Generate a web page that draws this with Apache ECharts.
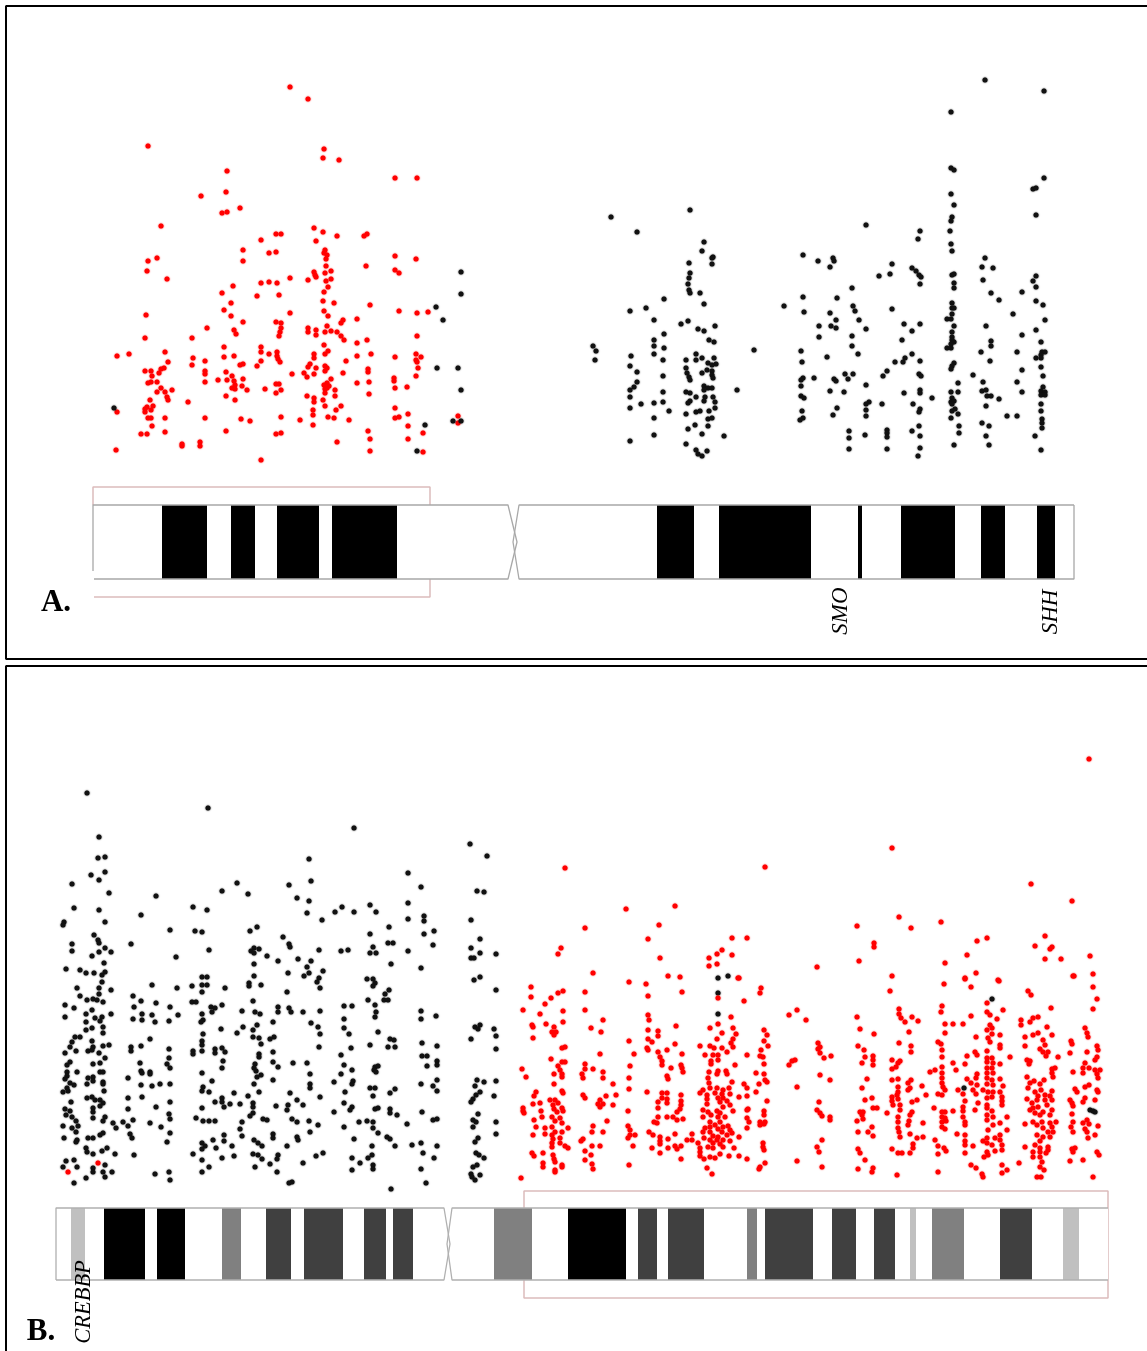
<!DOCTYPE html>
<html><head><meta charset="utf-8">
<style>html,body{margin:0;padding:0;background:#fff}#c{width:1147px;height:1351px}</style>
<script src="https://cdn.jsdelivr.net/npm/echarts@6/dist/echarts.min.js"></script>
</head><body><div id="c"></div>
<script>
const redA=[[290,87],[308,99],[148,146],[324,149],[323,158],[339,160],[227,171],[395,178],[417,178],[226,192],[201,196],[240,208],[227,212],[222,213],[161,226],[314,228],[323,232],[276,234],[281,234],[337,236],[364,236],[367,234],[261,240],[316,241],[243,250],[325,250],[324,253],[327,255],[269,253],[276,252],[395,256],[326,259],[416,259],[157,258],[148,261],[243,261],[326,266],[366,266],
[147,271],[167,279],[395,270],[399,273],[331,271],[325,273],[314,272],[316,277],[315,275],[331,279],[326,281],[308,280],[290,278],[277,283],[269,282],[261,283],[233,286],[222,293],[328,287],[324,292],[257,296],[279,295],[323,301],[231,303],[334,303],[370,305],[224,310],[146,315],[231,316],[290,313],[324,311],[328,316],[399,311],[417,313],[428,312],[357,319],[243,322],[276,322],[281,323],[343,320],[341,323],[327,326],[207,328],[234,330],[236,334],[281,328],[280,332],[279,336],[308,328],[308,332],[316,330],[316,335],[325,332],[331,331],[337,332],[341,336],[344,340],[417,336],[145,338],[192,338],[367,340],[357,343],[324,345],[224,347],[261,347],[261,352],[165,352],[328,351],[325,354],[129,354],[117,356],[269,354],[277,352],[277,356],[314,354],[314,358],[371,354],[357,356],[395,357],[416,354],[421,357],[416,360],[417,362],[193,358],[224,357],[234,356],[278,359],[280,362],[261,361],[257,366],[168,362],[205,361],[192,365],[346,361],[240,365],[243,364],[310,364],[308,367],[316,368],[325,366],[327,368],[325,371],[164,368],[161,369],[159,373],[145,371],[151,371],[152,376],[205,371],[205,374],[226,372],[232,376],[227,380],[218,380],[243,379],[234,381],[368,369],[368,372],[418,368],[416,376],[343,373],[292,374],[304,373],[307,377],[314,374],[331,379],[394,378],[394,381],[148,383],[151,382],[157,382],[205,382],[357,383],[369,382],[276,384],[279,384],[327,383],[324,385],[329,386],[235,385],[242,386],[232,388],[235,389],[247,390],[265,389],[281,390],[325,389],[327,388],[335,390],[395,388],[407,387],[161,388],[172,390],[157,392],[165,392],[276,393],[325,393],[369,394],[226,396],[335,396],[167,397],[168,400],[307,396],[314,398],[314,402],[323,400],[150,400],[188,402],[235,400],[325,406],[341,406],[336,410],[395,408],[153,406],[147,407],[145,409],[151,410],[145,412],[117,412],[313,410],[313,415],[408,414],[458,416],[148,418],[151,418],[165,418],[205,418],[241,419],[250,421],[281,417],[300,420],[328,417],[334,418],[349,420],[395,418],[399,417],[313,425],[152,426],[408,426],[458,423],[226,431],[368,431],[423,433],[276,434],[281,433],[141,434],[147,434],[165,432],[370,439],[408,439],[337,442],[182,444],[182,446],[200,442],[200,446],[116,450],[370,451],[423,452],[261,460]];
const blackA=[[461,272],[461,294],[436,307],[443,320],[437,368],[458,368],[461,390],[425,425],[453,421],[461,421],[417,451],[114,408],
[985,80],[1044,91],[951,112],[951,168],[954,170],[1044,178],[1033,189],[1036,188],[951,194],[954,205],[690,210],[611,217],[1036,215],[952,217],[951,221],[866,225],[637,232],[920,231],[950,231],[918,239],[704,242],[951,244],[702,251],[952,251],[803,255],[713,257],[712,258],[833,258],[834,261],[818,261],[985,258],[689,263],[712,264],[892,264],[830,267],[982,267],[993,268],[912,268],
[916,271],[919,275],[921,277],[879,276],[890,274],[690,273],[689,278],[688,284],[689,290],[690,293],[700,293],[952,275],[954,274],[954,283],[954,288],[920,284],[983,280],[1036,276],[1033,281],[1036,287],[852,288],[1022,292],[991,293],[803,297],[837,298],[664,299],[999,300],[1036,301],[704,304],[952,303],[1043,305],[784,306],[853,306],[646,308],[952,308],[954,308],[892,309],[855,311],[630,311],[804,312],[830,313],[952,314],[1013,314],[1045,320],[859,320],[836,320],[654,320],[688,321],[681,324],[947,319],[951,319],[954,326],[904,324],[920,324],[819,326],[831,326],[836,328],[715,326],[698,329],[704,331],[866,329],[912,331],[986,326],[1036,330],[664,334],[819,337],[852,336],[1022,335],[952,332],[952,337],[952,340],[954,342],[902,340],[654,340],[709,340],[714,342],[991,341],[991,346],[1041,342],[654,346],[664,348],[852,346],[947,348],[951,348],[951,344],[593,346],[596,351],[595,360],[754,350],[801,351],[981,352],[1017,352],[1042,352],[1045,352],[1041,355],[1036,358],[1041,358],[654,354],[631,356],[696,354],[702,358],[714,358],[858,354],[912,354],[827,357],[905,358],[663,360],[686,360],[696,360],[708,363],[716,364],[712,365],[920,361],[802,362],[895,362],[903,362],[990,361],[630,366],[686,368],[954,363],[952,366],[951,369],[1041,367],[637,372],[687,373],[702,373],[707,370],[712,371],[712,375],[713,378],[1022,370],[887,371],[883,376],[845,374],[853,374],[919,374],[921,376],[973,375],[1043,376],[663,376],[689,377],[690,380],[814,378],[803,378],[801,380],[834,379],[836,381],[848,379],[637,382],[958,383],[983,382],[1017,382],[801,386],[866,385],[634,387],[630,390],[704,386],[708,388],[712,388],[704,390],[1043,387],[737,390],[830,391],[844,392],[904,393],[920,390],[920,393],[951,392],[958,392],[982,391],[986,390],[1022,392],[1041,391],[1045,392],[1041,395],[1045,395],[663,392],[686,392],[690,393],[630,397],[696,397],[705,397],[713,397],[801,396],[804,398],[932,398],[987,396],[991,396],[999,399],[952,398],[951,402],[954,401],[952,404],[641,404],[654,403],[663,402],[690,401],[688,403],[704,401],[715,402],[869,402],[866,404],[882,404],[913,404],[1041,404],[986,406],[715,408],[630,408],[837,408],[866,410],[920,409],[919,412],[952,411],[955,409],[958,414],[1041,411],[669,411],[686,414],[696,412],[700,411],[709,411],[802,411],[833,415],[866,416],[1007,416],[1017,416],[654,418],[708,419],[712,418],[803,418],[800,420],[951,418],[1042,419],[1042,423],[982,423],[989,426],[695,425],[708,426],[688,429],[919,426],[959,426],[1042,428],[849,431],[887,430],[912,431],[959,433],[887,433],[702,434],[654,435],[724,436],[865,435],[849,438],[887,437],[920,436],[986,436],[1035,436],[630,441],[686,444],[954,445],[989,445],[849,449],[887,449],[920,448],[1041,450],[696,450],[698,454],[702,456],[707,451],[918,456]];
const blackB=[[87,793],[208,808],[354,828],[99,837],[470,844],[487,856],[98,858],[105,857],[309,859],[105,872],[408,873],[91,875],[99,880],[311,881],[72,884],[237,883],[289,885],[421,887],[222,891],[477,891],[484,892],[109,893],[248,894],[156,896],[297,898],[309,901],[408,903],[370,905],[74,908],[193,907],[342,907],[99,910],[207,910],[335,912],[354,912],[376,912],[307,913],[141,915],[424,916],[408,919],[424,921],[322,920],[471,920],[64,922],[105,922],[63,925],[257,927],[389,927],[170,930],[195,931],[202,932],[250,931],[424,934],[434,931],[370,934],[94,935],[283,937],[98,940],[99,943],[480,939],[72,944],[131,944],[289,944],[290,947],[388,943],[393,943],[433,945],[105,948],[373,947],[72,951],[99,952],[111,952],[209,950],[254,948],[259,949],[251,951],[254,953],[319,950],[341,951],[348,950],[408,951],[471,948],[92,956],[176,957],[267,956],[298,959],[370,953],[376,953],[480,953],[496,954],[471,958],[474,958],[278,961],[311,961],[104,963],[254,964],[391,964],[307,967],[66,969],[80,970],[86,973],[94,973],[105,972],[102,975],[421,968],[254,976],[288,973],[309,973],[323,971],[304,976],[319,978],[202,977],[207,977],[367,979],[373,979],[375,983],[474,980],[480,977],[102,982],[317,982],[152,985],[202,985],[207,985],[192,986],[249,983],[249,986],[261,985],[373,986],
[77,988],[99,988],[111,990],[177,988],[225,988],[287,992],[320,988],[389,990],[496,990],[202,992],[99,994],[80,996],[133,996],[385,994],[87,1000],[93,999],[97,1000],[103,1002],[141,1001],[156,1003],[192,1002],[196,1002],[253,1001],[368,1000],[384,1000],[388,1000],[65,1005],[74,1008],[92,1010],[134,1007],[170,1007],[211,1007],[222,1005],[215,1008],[278,1007],[289,1008],[375,1005],[344,1006],[352,1006],[421,1011],[242,1011],[278,1012],[291,1012],[303,1012],[320,1011],[376,1012],[212,1012],[255,1012],[260,1014],[86,1014],[111,1014],[142,1014],[152,1015],[178,1015],[202,1014],[436,1016],[65,1017],[95,1018],[102,1017],[375,1017],[344,1019],[421,1019],[133,1019],[142,1020],[86,1022],[100,1021],[155,1022],[169,1021],[203,1020],[201,1022],[273,1022],[311,1023],[103,1027],[92,1028],[86,1030],[257,1025],[318,1027],[344,1028],[475,1027],[480,1025],[478,1029],[221,1029],[243,1027],[253,1030],[494,1029],[378,1032],[103,1033],[203,1034],[237,1033],[349,1034],[320,1034],[496,1036],[75,1037],[80,1037],[150,1039],[253,1037],[259,1038],[274,1037],[270,1039],[390,1039],[394,1040],[471,1039],[72,1042],[92,1041],[202,1041],[261,1044],[70,1047],[93,1047],[103,1046],[109,1045],[141,1046],[202,1045],[351,1048],[370,1045],[388,1047],[395,1047],[422,1043],[437,1046],[496,1049],[131,1047],[131,1051],[169,1049],[215,1049],[222,1048],[76,1051],[88,1051],[92,1050],[65,1053],[99,1053],[193,1051],[193,1054],[202,1051],[215,1053],[225,1052],[273,1052],[319,1047],[259,1054],[259,1057],[341,1055],[422,1056],[427,1056],[105,1058],[169,1058],[223,1061],[273,1062],[293,1063],[307,1063],[70,1062],[67,1065],[93,1064],[100,1063],[140,1063],[167,1064],[255,1064],[344,1065],[437,1061],[437,1065],[278,1067],[375,1067],[378,1066],[427,1066],[170,1068],[222,1068],[254,1068],[256,1071],[352,1070],[374,1070],[376,1072],[67,1072],[77,1072],[100,1072],[103,1072],[141,1071],[150,1072],[150,1074],[202,1073],[142,1073],[310,1074],[341,1074],[261,1075],[67,1076],[93,1077],[88,1078],[65,1079],[128,1078],[257,1077],[334,1082],[477,1080],[437,1080],[484,1082],[496,1081],[273,1080],[353,1081],[212,1081],[93,1081],[103,1082],[70,1083],[74,1085],[87,1084],[103,1084],[141,1085],[152,1086],[160,1084],[170,1084],[352,1084],[421,1084],[254,1084],[310,1084],[310,1088],[475,1086],[203,1087],[67,1088],[104,1091],[433,1086],[370,1088],[375,1088],[395,1089],[437,1091],[63,1092],[68,1091],[202,1091],[209,1092],[259,1092],[345,1092],[390,1093],[480,1092],[476,1095],[290,1093],[234,1093],[248,1096],[494,1096],[128,1098],[142,1097],[87,1098],[92,1097],[95,1100],[100,1100],[373,1096],[320,1097],[473,1099],[222,1098],[215,1102],[297,1100],[471,1102],[71,1102],[103,1103],[170,1102],[222,1102],[230,1104],[240,1104],[253,1103],[344,1103],[224,1107],[303,1105],[288,1105],[276,1106],[352,1107],[202,1108],[156,1107],[93,1108],[100,1106],[128,1109],[65,1109],[70,1111],[93,1112],[253,1107],[287,1110],[350,1110],[375,1109],[378,1108],[390,1109],[422,1112],[390,1113],[397,1115],[334,1112],[66,1115],[169,1114],[253,1113],[250,1116],[478,1114],[72,1117],[105,1117],[93,1118],[170,1119],[196,1118],[133,1120],[263,1119],[267,1120],[292,1119],[437,1119],[433,1120],[473,1120],[476,1122],[76,1121],[103,1121],[113,1123],[123,1122],[150,1123],[203,1121],[209,1121],[215,1121],[242,1122],[309,1121],[297,1122],[318,1125],[359,1122],[367,1121],[373,1122],[407,1124],[496,1122],[63,1126],[72,1128],[78,1126],[116,1128],[128,1126],[161,1127],[240,1129],[344,1127],[373,1128],[473,1127],[76,1132],[100,1135],[103,1133],[130,1134],[170,1133],[224,1135],[242,1136],[310,1132],[378,1133],[496,1134],[273,1134],[273,1138],[297,1137],[64,1138],[88,1138],[93,1138],[132,1138],[387,1137],[390,1139],[354,1139],[478,1138],[77,1140],[76,1142],[167,1142],[224,1141],[213,1140],[254,1140],[298,1140],[258,1143],[202,1143],[205,1146],[475,1142],[395,1146],[412,1145],[421,1143],[437,1146],[372,1146],[232,1146],[287,1146],[262,1146],[86,1148],[107,1148],[102,1151],[202,1149],[216,1148],[87,1152],[93,1154],[115,1154],[134,1155],[193,1154],[253,1154],[258,1155],[323,1153],[316,1156],[278,1155],[372,1155],[423,1153],[476,1153],[479,1155],[234,1156],[222,1158],[202,1160],[262,1159],[277,1159],[352,1158],[368,1158],[434,1158],[484,1158],[66,1161],[74,1160],[303,1163],[360,1163],[270,1164],[373,1165],[105,1165],[477,1165],[473,1167],[63,1167],[77,1167],[93,1168],[255,1167],[209,1167],[202,1172],[352,1170],[373,1169],[421,1169],[93,1172],[103,1172],[112,1172],[155,1174],[169,1172],[277,1172],[471,1174],[480,1175],[105,1177],[86,1178],[170,1180],[475,1180],[472,1177],[74,1183],[292,1182],[289,1183],[426,1183],[391,1189],
[718,978],[728,976],[718,993],[718,1014],[992,999],[964,1088],[1090,1110],[1093,1111],[1095,1112]];
const redB=[[98,1163],[68,1172],
[1089,759],[892,848],[565,868],[765,867],[1031,884],[1072,901],[626,909],[675,906],[899,917],[857,926],[911,928],[941,922],[585,928],[659,925],[648,939],[732,938],[747,938],[987,938],[977,941],[1045,936],[1035,946],[1052,947],[1050,949],[874,943],[874,947],[561,948],[558,954],[722,950],[717,954],[732,955],[709,958],[660,958],[967,955],[1090,956],[859,961],[945,963],[1045,959],[1061,959],[717,964],[709,966],[817,967],[593,973],[976,973],[1093,974],[668,976],[680,977],[892,976],[1074,976],[738,978],[965,978],[998,980],
[739,978],[629,982],[646,984],[531,987],[585,992],[563,991],[558,993],[551,998],[531,997],[648,996],[682,992],[761,988],[760,993],[744,1001],[718,998],[545,1004],[523,1010],[585,1010],[563,1011],[540,1014],[789,1015],[797,1010],[806,1020],[731,1017],[603,1020],[648,1015],[649,1020],[563,1022],[546,1024],[532,1025],[533,1027],[554,1027],[591,1028],[676,1026],[710,1028],[718,1024],[733,1028],[764,1030],[552,1032],[556,1032],[554,1035],[648,1030],[658,1031],[601,1032],[722,1033],[736,1034],[658,1036],[767,1035],[533,1038],[648,1039],[717,1039],[733,1039],[764,1041],[629,1041],[652,1042],[731,1043],[675,1044],[700,1046],[710,1046],[768,1046],[562,1048],[565,1047],[647,1048],[648,1050],[667,1050],[658,1052],[714,1048],[722,1048],[727,1052],[733,1047],[761,1050],[634,1054],[600,1054],[682,1054],[705,1055],[713,1055],[718,1055],[747,1055],[760,1056],[763,1057],[660,1057],[551,1059],[562,1062],[565,1062],[662,1061],[711,1061],[718,1060],[795,1060],[792,1061],[585,1064],[630,1066],[558,1066],[662,1065],[711,1064],[735,1065],[764,1064],[789,1065],[681,1065],[671,1068],[682,1068],[522,1069],[585,1069],[593,1069],[560,1070],[683,1072],[603,1072],[718,1071],[709,1072],[726,1071],[554,1074],[562,1074],[582,1074],[717,1074],[727,1074],[756,1073],[764,1074],[667,1076],[526,1077],[583,1078],[603,1078],[629,1078],[562,1077],[668,1079],[708,1078],[765,1080],[767,1082],[554,1084],[613,1084],[709,1083],[732,1082],[744,1084],[759,1084],[797,1087],[629,1089],[710,1088],[717,1088],[723,1090],[729,1088],[747,1088],[562,1091],[536,1092],[647,1092],[662,1093],[667,1093],[681,1095],[703,1090],[700,1093],[707,1095],[715,1093],[722,1094],[730,1094],[756,1092],[747,1096],[563,1093],[534,1096],[583,1095],[585,1098],[606,1096],[616,1095],[739,1097],[707,1099],[718,1098],[723,1098],[550,1100],[555,1100],[600,1100],[662,1098],[667,1099],[681,1101],[767,1101],[533,1104],[540,1103],[553,1105],[558,1103],[598,1104],[603,1104],[613,1105],[658,1102],[667,1103],[720,1102],[727,1101],[707,1104],[730,1105],[523,1108],[554,1109],[562,1108],[600,1107],[658,1108],[681,1105],[680,1109],[703,1110],[723,1107],[748,1109],[541,1111],[523,1111],[524,1113],[557,1112],[563,1111],[628,1111],[677,1112],[708,1112],[717,1111],[720,1113],[733,1111],[747,1110],[764,1111],[764,1115],[542,1117],[552,1117],[560,1118],[667,1117],[673,1117],[658,1117],[703,1117],[711,1115],[718,1117],[725,1117],[747,1118],[534,1120],[555,1121],[562,1123],[607,1121],[677,1120],[683,1119],[654,1122],[657,1123],[710,1122],[720,1122],[749,1122],[760,1122],[765,1122],[760,1125],[764,1124],[536,1127],[552,1127],[593,1126],[628,1126],[710,1127],[715,1125],[723,1127],[728,1126],[545,1128],[568,1128],[630,1130],[705,1128],[718,1129],[730,1130],[747,1128],[555,1132],[562,1132],[592,1132],[603,1132],[649,1132],[703,1132],[710,1132],[722,1132],[732,1133],[545,1134],[533,1135],[552,1135],[630,1135],[635,1135],[653,1135],[675,1134],[692,1134],[713,1136],[660,1137],[718,1137],[727,1135],[739,1137],[628,1138],[553,1139],[560,1138],[583,1139],[581,1141],[660,1141],[668,1139],[687,1140],[692,1140],[704,1138],[710,1140],[717,1140],[723,1140],[730,1141],[552,1143],[560,1143],[698,1143],[660,1144],[713,1143],[720,1144],[763,1143],[552,1147],[565,1146],[592,1146],[600,1146],[633,1146],[675,1146],[681,1146],[708,1147],[713,1148],[723,1147],[763,1147],[568,1148],[652,1148],[668,1148],[677,1149],[700,1148],[734,1148],[764,1150],[585,1151],[660,1153],[532,1153],[534,1156],[543,1153],[553,1155],[591,1155],[700,1152],[700,1156],[710,1157],[720,1154],[729,1156],[739,1156],[747,1159],[554,1159],[585,1160],[681,1159],[704,1159],[715,1158],[797,1161],[543,1163],[555,1162],[592,1164],[629,1165],[562,1165],[765,1163],[543,1167],[562,1167],[707,1168],[760,1167],[593,1169],[555,1170],[759,1169],[555,1172],[712,1174],[521,1178],
[999,981],[944,984],[965,979],[971,987],[1073,976],[1093,987],[890,991],[1028,991],[1031,995],[1097,999],[987,1003],[942,1006],[1051,1008],[1093,1009],[899,1009],[1003,1010],[941,1012],[987,1012],[899,1014],[857,1017],[912,1017],[971,1016],[990,1015],[918,1021],[905,1022],[901,1018],[997,1019],[1021,1020],[1033,1018],[1038,1017],[1030,1022],[1021,1025],[945,1024],[953,1024],[963,1024],[990,1025],[1047,1027],[1085,1028],[860,1029],[987,1030],[992,1028],[1087,1033],[945,1033],[909,1032],[1033,1035],[1038,1033],[1052,1035],[874,1034],[992,1034],[1000,1035],[1088,1037],[976,1037],[1025,1037],[988,1038],[938,1042],[941,1044],[1043,1040],[1071,1041],[1072,1044],[990,1042],[818,1043],[899,1043],[858,1046],[1025,1046],[1000,1045],[1045,1045],[1097,1046],[820,1047],[818,1049],[911,1046],[1000,1048],[1040,1049],[942,1050],[1098,1050],[864,1050],[987,1051],[911,1052],[1087,1052],[1043,1052],[1048,1052],[1070,1053],[975,1052],[820,1053],[873,1056],[865,1057],[942,1057],[967,1056],[977,1055],[1010,1057],[1058,1057],[1097,1057],[831,1056],[824,1058],[1046,1056],[987,1058],[992,1058],[1027,1060],[1030,1061],[892,1060],[900,1061],[1095,1060],[873,1060],[862,1063],[898,1063],[953,1063],[965,1064],[987,1062],[993,1063],[1000,1064],[1029,1064],[1085,1063],[873,1065],[896,1067],[892,1069],[942,1067],[987,1068],[992,1068],[1052,1069],[1055,1068],[1083,1068],[1089,1068],[1095,1070],[1100,1070],[956,1070],[930,1072],[935,1070],[987,1073],[993,1073],[1073,1072],[1083,1073],[1097,1074],[1052,1073],[942,1073],[820,1075],[977,1074],[1027,1077],[1053,1077],[1098,1078],[867,1079],[892,1080],[898,1079],[911,1080],[942,1078],[967,1079],[976,1078],[987,1078],[1000,1079],[830,1080],[1034,1081],[1044,1080],[992,1080],[908,1083],[942,1083],[971,1083],[977,1085],[987,1084],[993,1085],[1030,1083],[1040,1084],[1089,1085],[1085,1087],[922,1086],[943,1087],[1003,1086],[898,1087],[910,1088],[958,1090],[862,1088],[945,1090],[973,1090],[983,1090],[1028,1088],[1035,1092],[1041,1090],[1052,1091],[1075,1089],[1097,1090],[1098,1092],[988,1092],[993,1092],[1000,1092],[898,1092],[892,1097],[897,1095],[908,1090],[938,1094],[942,1095],[963,1094],[976,1094],[1077,1092],[926,1095],[992,1097],[1002,1097],[1050,1096],[1038,1096],[1045,1095],[1027,1099],[865,1100],[872,1098],[892,1101],[898,1099],[917,1100],[965,1101],[987,1098],[1002,1101],[1037,1100],[1045,1100],[1052,1100],[1085,1098],[1095,1100],[1070,1100],[819,1102],[900,1105],[912,1102],[978,1103],[987,1105],[1002,1105],[1032,1103],[1072,1103],[1083,1102],[1073,1106],[873,1108],[877,1108],[893,1105],[963,1107],[987,1108],[1033,1108],[1038,1107],[1047,1105],[817,1110],[820,1113],[860,1112],[863,1112],[887,1113],[900,1110],[912,1112],[934,1108],[942,1112],[945,1112],[953,1111],[963,1111],[975,1110],[992,1111],[1030,1110],[1043,1112],[1052,1110],[822,1116],[830,1117],[830,1120],[857,1121],[862,1115],[863,1119],[898,1117],[910,1115],[942,1117],[945,1118],[963,1117],[987,1115],[993,1117],[1035,1113],[1040,1115],[1050,1115],[1007,1117],[1072,1114],[898,1122],[909,1121],[923,1123],[942,1122],[946,1121],[965,1122],[987,1120],[1000,1123],[1025,1124],[1033,1122],[1042,1122],[1056,1122],[1050,1123],[1087,1120],[1083,1123],[1073,1122],[1089,1124],[1098,1126],[908,1125],[872,1127],[898,1128],[942,1127],[945,1129],[965,1125],[988,1130],[993,1125],[1037,1125],[1043,1128],[1052,1127],[1071,1127],[1085,1129],[858,1132],[868,1132],[899,1132],[1007,1130],[1048,1132],[1053,1132],[1073,1132],[1087,1132],[873,1136],[910,1134],[923,1137],[917,1138],[957,1134],[965,1135],[900,1137],[987,1138],[1000,1135],[1037,1135],[1043,1137],[1050,1137],[1088,1138],[1095,1135],[822,1140],[935,1140],[965,1141],[983,1141],[1000,1140],[995,1138],[1040,1141],[817,1147],[913,1144],[938,1146],[973,1146],[965,1145],[992,1145],[1002,1145],[987,1143],[1025,1147],[1035,1145],[1040,1148],[1048,1147],[819,1152],[858,1149],[860,1153],[892,1149],[898,1153],[902,1153],[910,1153],[913,1148],[944,1148],[946,1151],[938,1154],[965,1153],[987,1152],[995,1151],[1002,1150],[1072,1149],[1075,1148],[1097,1152],[1033,1152],[1040,1152],[1048,1150],[1033,1157],[1040,1157],[1046,1153],[984,1157],[988,1155],[1073,1152],[1099,1155],[865,1160],[1070,1161],[1083,1160],[1019,1163],[1042,1162],[822,1167],[971,1165],[1002,1165],[1040,1167],[858,1169],[873,1168],[976,1168],[1007,1170],[872,1172],[938,1172],[1002,1173],[1044,1170],[982,1174],[897,1175],[983,1177],[1037,1177],[1041,1177],[1093,1177]];

// chromosome bands: [start, end, top, bottom, shade]; the first entries are the pale arms
const bandsA=[[93,508,505,579,'#fff'],[519,1074,505,579,'#fff'],[162,207,505,579,'#000'],[231,255,505,579,'#000'],[277,319,505,579,'#000'],[332,397,505,579,'#000'],[657,694,505,579,'#000'],[719,811,505,579,'#000'],[858,862,505,579,'#000'],[901,955,505,579,'#000'],[981,1005,505,579,'#000'],[1037,1055,505,579,'#000']];
const bandsB=[[56,444,1208,1280,'#fff'],[452,1108,1208,1280,'#fff'],[71,85,1208,1280,'#c0c0c0'],[104,145,1208,1280,'#000'],[157,185,1208,1280,'#000'],[222,241,1208,1280,'#808080'],[266,291,1208,1280,'#404040'],[304,343,1208,1280,'#404040'],[364,386,1208,1280,'#404040'],[393,413,1208,1280,'#404040'],[494,532,1208,1280,'#808080'],[568,626,1208,1280,'#000'],[638,657,1208,1280,'#404040'],[668,704,1208,1280,'#404040'],[747,757,1208,1280,'#808080'],[765,813,1208,1280,'#404040'],[832,856,1208,1280,'#404040'],[874,895,1208,1280,'#404040'],[910,916,1208,1280,'#c0c0c0'],[932,964,1208,1280,'#808080'],[1000,1032,1208,1280,'#404040'],[1063,1079,1208,1280,'#c0c0c0']];
const outlineAp=[[93,571],[93,505],[508,505],[517,542],[508,579],[94,579]];
const outlineAq=[[1074,505],[519,505],[513,542],[519,579],[1074,579],[1074,505]];
const outlineBp=[[56,1280],[56,1208],[444,1208],[450,1244],[444,1280],[56,1280]];
const outlineBq=[[1108,1208],[452,1208],[447,1244],[452,1280],[1108,1280]];
const boxA=[[93,505],[93,487],[430,487],[430,597],[94,597]];
const boxB=[[524,1208],[524,1191],[1108,1191],[1108,1298],[524,1298],[524,1280]];
const frameA=[[1147,6],[6,6],[6,659],[1147,659]];
const frameB=[[1147,666],[6,666],[6,1351]];

const line=(data,color,width,z)=>({type:'line',data,showSymbol:false,silent:true,animation:false,z,lineStyle:{color,width},clip:false});
const bands=data=>({type:'custom',data,silent:true,animation:false,z:3,encode:{x:[0,1],y:[2,3]},
 renderItem:(p,api)=>{const a=api.coord([api.value(0),api.value(2)]),b=api.coord([api.value(1),api.value(3)]);
  return {type:'rect',shape:{x:a[0],y:a[1],width:b[0]-a[0],height:b[1]-a[1]},style:{fill:data[p.dataIndex][4]}};}});
const dots=(data,color)=>({type:'scatter',data,symbol:'circle',symbolSize:5,silent:true,animation:false,z:5,large:false,itemStyle:{color,shadowColor:color,shadowBlur:1.5,opacity:1}});
const txt=(x,y,s,font,rot)=>({type:'text',x,y,rotation:rot||0,z:10,style:{text:s,font,fill:'#000',textAlign:'center',textVerticalAlign:'middle'}});

const chart=echarts.init(document.getElementById('c'),null,{renderer:'canvas'});
chart.setOption({animation:false,backgroundColor:'#fff',
 grid:{left:0,right:0,top:0,bottom:0},
 xAxis:{type:'value',min:0,max:1147,show:false},
 yAxis:{type:'value',min:0,max:1351,inverse:true,show:false},
 series:[
  line(frameA,'#000',2,1),line(frameB,'#000',2,1),
  line(boxA,'#dcbcbc',1.5,1),line(boxB,'#dcbcbc',1.5,1),
  bands(bandsA),bands(bandsB),
  line(outlineAp,'#a8a8a8',1.3,4),line(outlineAq,'#a8a8a8',1.3,4),
  line(outlineBp,'#b0b0b0',1.3,4),line(outlineBq,'#b0b0b0',1.3,4),
  dots(redA,'#f00'),dots(blackA,'#111'),dots(blackB,'#111'),dots(redB,'#f00')
 ],
 graphic:[
  txt(56,603,'A.','bold 31px "Liberation Serif"'),
  txt(41,1332,'B.','bold 31px "Liberation Serif"'),
  txt(841,611,'SMO','italic 23px "Liberation Serif"',Math.PI/2),
  txt(1051,612,'SHH','italic 23px "Liberation Serif"',Math.PI/2),
  txt(84,1302,'CREBBP','italic 22.5px "Liberation Serif"',Math.PI/2)
 ]
});
</script></body></html>
